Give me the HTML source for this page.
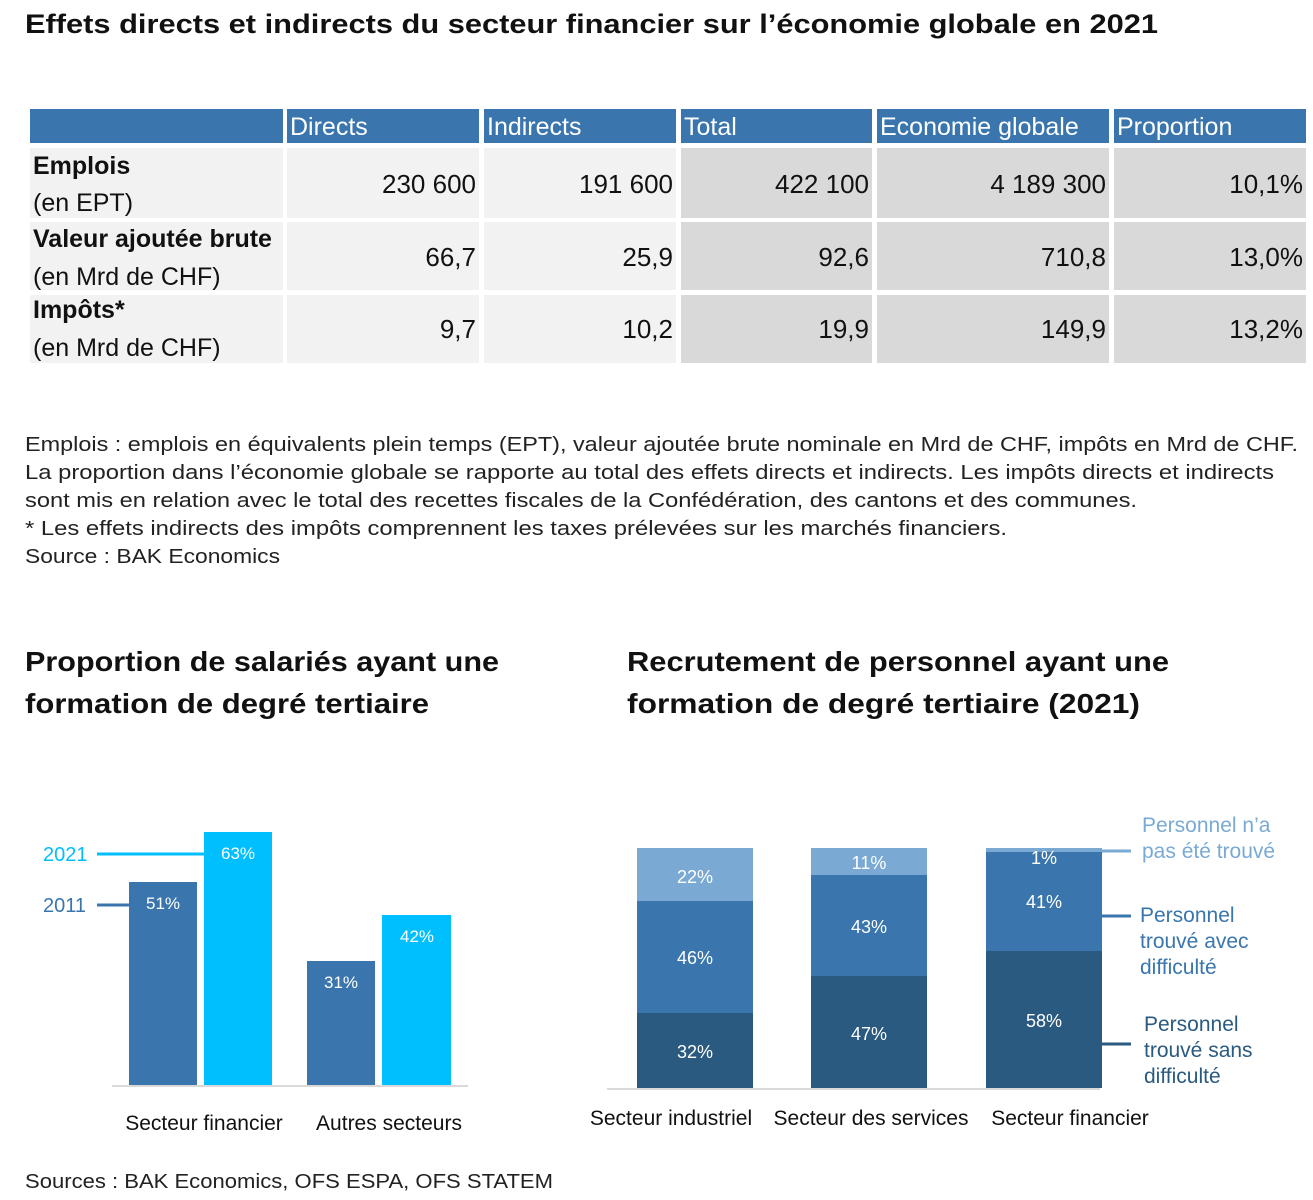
<!DOCTYPE html>
<html><head><meta charset="utf-8"><style>
html,body{margin:0;padding:0;background:#fff;}
svg{display:block;}
text{font-family:"Liberation Sans Narrow","Liberation Sans",sans-serif;}
.s{font-family:"Liberation Sans",sans-serif;}
</style></head><body>
<svg width="1313" height="1200" viewBox="0 0 1313 1200" xmlns="http://www.w3.org/2000/svg">
<rect width="1313" height="1200" fill="#fff"/>
<text class="s" x="25" y="33" font-size="27" font-weight="bold" fill="#111" textLength="1133" lengthAdjust="spacingAndGlyphs">Effets directs et indirects du secteur financier sur l’économie globale en 2021</text>

<!-- table header -->
<g fill="#3a76ad">
<rect x="30" y="109" width="253" height="34"/>
<rect x="287" y="109" width="192" height="34"/>
<rect x="484" y="109" width="192" height="34"/>
<rect x="681" y="109" width="191" height="34"/>
<rect x="877" y="109" width="232" height="34"/>
<rect x="1114" y="109" width="192" height="34"/>
</g>
<g font-size="25" fill="#fff">
<text x="290" y="135">Directs</text>
<text x="487" y="135">Indirects</text>
<text x="684" y="135">Total</text>
<text x="880" y="135">Economie globale</text>
<text x="1117" y="135">Proportion</text>
</g>
<!-- rows -->
<g>
<rect x="30" y="148" width="253" height="70" fill="#f2f2f2"/><rect x="287" y="148" width="192" height="70" fill="#f2f2f2"/><rect x="484" y="148" width="192" height="70" fill="#f2f2f2"/>
<rect x="681" y="148" width="191" height="70" fill="#d9d9d9"/><rect x="877" y="148" width="232" height="70" fill="#d9d9d9"/><rect x="1114" y="148" width="192" height="70" fill="#d9d9d9"/>
<rect x="30" y="222" width="253" height="68" fill="#f2f2f2"/><rect x="287" y="222" width="192" height="68" fill="#f2f2f2"/><rect x="484" y="222" width="192" height="68" fill="#f2f2f2"/>
<rect x="681" y="222" width="191" height="68" fill="#d9d9d9"/><rect x="877" y="222" width="232" height="68" fill="#d9d9d9"/><rect x="1114" y="222" width="192" height="68" fill="#d9d9d9"/>
<rect x="30" y="295" width="253" height="68" fill="#f2f2f2"/><rect x="287" y="295" width="192" height="68" fill="#f2f2f2"/><rect x="484" y="295" width="192" height="68" fill="#f2f2f2"/>
<rect x="681" y="295" width="191" height="68" fill="#d9d9d9"/><rect x="877" y="295" width="232" height="68" fill="#d9d9d9"/><rect x="1114" y="295" width="192" height="68" fill="#d9d9d9"/>
</g>
<g font-size="25" fill="#111">
<text x="33" y="174" font-weight="bold">Emplois</text><text x="33" y="211">(en EPT)</text>
<text x="33" y="247" font-weight="bold">Valeur ajoutée brute</text><text x="33" y="285">(en Mrd de CHF)</text>
<text x="33" y="318" font-weight="bold">Impôts*</text><text x="33" y="356">(en Mrd de CHF)</text>
</g>
<g font-size="26" fill="#111" text-anchor="end">
<text x="476" y="193">230 600</text><text x="673" y="193">191 600</text><text x="869" y="193">422 100</text><text x="1106" y="193">4 189 300</text><text x="1303" y="193">10,1%</text>
<text x="476" y="266">66,7</text><text x="673" y="266">25,9</text><text x="869" y="266">92,6</text><text x="1106" y="266">710,8</text><text x="1303" y="266">13,0%</text>
<text x="476" y="338">9,7</text><text x="673" y="338">10,2</text><text x="869" y="338">19,9</text><text x="1106" y="338">149,9</text><text x="1303" y="338">13,2%</text>
</g>

<!-- notes -->
<g class="s" font-size="20" fill="#222" font-family="Liberation Sans, sans-serif">
<text class="s" x="25" y="451" textLength="1273" lengthAdjust="spacingAndGlyphs">Emplois : emplois en équivalents plein temps (EPT), valeur ajoutée brute nominale en Mrd de CHF, impôts en Mrd de CHF.</text>
<text class="s" x="25" y="479" textLength="1249" lengthAdjust="spacingAndGlyphs">La proportion dans l’économie globale se rapporte au total des effets directs et indirects. Les impôts directs et indirects</text>
<text class="s" x="25" y="507" textLength="1112" lengthAdjust="spacingAndGlyphs">sont mis en relation avec le total des recettes fiscales de la Confédération, des cantons et des communes.</text>
<text class="s" x="25" y="535" textLength="982" lengthAdjust="spacingAndGlyphs">* Les effets indirects des impôts comprennent les taxes prélevées sur les marchés financiers.</text>
<text class="s" x="25" y="563" textLength="255" lengthAdjust="spacingAndGlyphs">Source : BAK Economics</text>
</g>

<!-- chart titles -->
<g font-size="28" font-weight="bold" fill="#111">
<text class="s" x="25" y="671" textLength="474" lengthAdjust="spacingAndGlyphs">Proportion de salariés ayant une</text>
<text class="s" x="25" y="713" textLength="404" lengthAdjust="spacingAndGlyphs">formation de degré tertiaire</text>
<text class="s" x="627" y="671" textLength="542" lengthAdjust="spacingAndGlyphs">Recrutement de personnel ayant une</text>
<text class="s" x="627" y="713" textLength="513" lengthAdjust="spacingAndGlyphs">formation de degré tertiaire (2021)</text>
</g>

<!-- left chart -->
<rect x="129" y="882" width="68" height="204" fill="#3a76ad"/>
<rect x="204" y="832" width="68" height="254" fill="#00bfff"/>
<rect x="307" y="961" width="68" height="125" fill="#3a76ad"/>
<rect x="382" y="915" width="69" height="171" fill="#00bfff"/>
<line x1="112" y1="1086" x2="468" y2="1086" stroke="#d9d9d9" stroke-width="2"/>
<line x1="97" y1="854" x2="204" y2="854" stroke="#00bfff" stroke-width="3"/>
<line x1="97" y1="905" x2="129" y2="905" stroke="#3a76ad" stroke-width="3"/>
<g class="s" font-size="20">
<text class="s" x="43" y="861" fill="#00bfff">2021</text>
<text class="s" x="43" y="912" fill="#3a76ad">2011</text>
</g>
<g font-size="17" fill="#fff" text-anchor="middle" font-family="Liberation Sans, sans-serif">
<text class="s" x="163" y="909">51%</text><text class="s" x="238" y="859">63%</text>
<text class="s" x="341" y="988">31%</text><text class="s" x="417" y="942">42%</text>
</g>
<g font-size="21" fill="#111" text-anchor="middle">
<text x="204" y="1130">Secteur financier</text>
<text x="389" y="1130">Autres secteurs</text>
</g>

<!-- right chart -->
<rect x="637" y="848" width="116" height="53" fill="#7aaad4"/>
<rect x="637" y="901" width="116" height="112" fill="#3a76ad"/>
<rect x="637" y="1013" width="116" height="75" fill="#2a5a80"/>
<rect x="811" y="848" width="116" height="27" fill="#7aaad4"/>
<rect x="811" y="875" width="116" height="101" fill="#3a76ad"/>
<rect x="811" y="976" width="116" height="112" fill="#2a5a80"/>
<rect x="986" y="848" width="116" height="4" fill="#7aaad4"/>
<rect x="986" y="852" width="116" height="99" fill="#3a76ad"/>
<rect x="986" y="951" width="116" height="137" fill="#2a5a80"/>
<line x1="607" y1="1089" x2="1100" y2="1089" stroke="#d9d9d9" stroke-width="2"/>
<g font-size="18" fill="#fff" text-anchor="middle">
<text x="695" y="883">22%</text><text x="695" y="964">46%</text><text x="695" y="1058">32%</text>
<text x="869" y="869">11%</text><text x="869" y="933">43%</text><text x="869" y="1040">47%</text>
<text x="1044" y="864">1%</text><text x="1044" y="908">41%</text><text x="1044" y="1027">58%</text>
</g>
<line x1="1102" y1="851" x2="1131" y2="851" stroke="#7aaad4" stroke-width="3"/>
<line x1="1102" y1="916" x2="1131" y2="916" stroke="#3a76ad" stroke-width="3"/>
<line x1="1102" y1="1044" x2="1131" y2="1044" stroke="#2a5a80" stroke-width="3"/>
<g font-size="21">
<text x="1142" y="832" fill="#7aaad4">Personnel n’a</text>
<text x="1142" y="858" fill="#7aaad4">pas été trouvé</text>
<text x="1140" y="922" fill="#3a76ad">Personnel</text>
<text x="1140" y="948" fill="#3a76ad">trouvé avec</text>
<text x="1140" y="974" fill="#3a76ad">difficulté</text>
<text x="1144" y="1031" fill="#2a5a80">Personnel</text>
<text x="1144" y="1057" fill="#2a5a80">trouvé sans</text>
<text x="1144" y="1083" fill="#2a5a80">difficulté</text>
</g>
<g font-size="21" fill="#111" text-anchor="middle">
<text x="671" y="1125">Secteur industriel</text>
<text x="871" y="1125">Secteur des services</text>
<text x="1070" y="1125">Secteur financier</text>
</g>

<text class="s" x="25" y="1188" font-size="20" fill="#222" textLength="528" lengthAdjust="spacingAndGlyphs">Sources : BAK Economics, OFS ESPA, OFS STATEM</text>
</svg>
</body></html>
